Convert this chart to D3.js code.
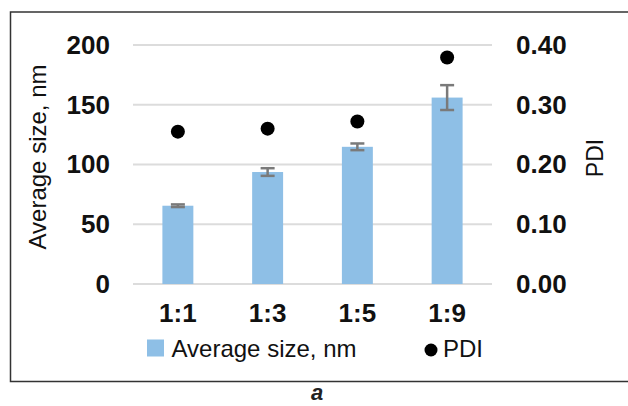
<!DOCTYPE html>
<html>
<head>
<meta charset="utf-8">
<script src="https://cdn.jsdelivr.net/npm/d3@7"></script>
<style>
  html, body { margin: 0; padding: 0; background: #fff; }
  svg { display: block; font-family: "Liberation Sans", Arial, sans-serif; }
</style>
</head>
<body>
<div id="chart"></div>
<script>
// data
const ratios = ["1:1", "1:3", "1:5", "1:9"];
const avgSize = [65.5, 93.7, 114.8, 156];
const sizeErr = [1.1, 3.2, 2.8, 10.4];
const pdi = [0.255, 0.26, 0.272, 0.379];
const sizeTicks = [0, 50, 100, 150, 200];
const pdiTicks = [0, 0.1, 0.2, 0.3, 0.4];

const width = 628;
const height = 406;
const plot = { left: 133, right: 492, top: 45, bottom: 284 };

const barColor = "#8ebfe6";
const errColor = "#7a7a7a";
const gridColor = "#dcdcdc";

const svg = d3.select("#chart")
    .append("svg")
    .attr("width", width)
    .attr("height", height);

// frame (open on the right, like the cropped figure)
svg.append("path")
    .attr("d", `M${width},12H10.5V381.5H${width}`)
    .attr("fill", "none")
    .attr("stroke", "#333")
    .attr("stroke-width", 1.5);

const x = d3.scaleBand()
    .domain(ratios)
    .range([plot.left, plot.right])
    .paddingInner(0.655)
    .paddingOuter(0.3275);

const y = d3.scaleLinear().domain([0, 200]).range([plot.bottom, plot.top]);
const y2 = d3.scaleLinear().domain([0, 0.4]).range([plot.bottom, plot.top]);

// gridlines
svg.append("g")
    .selectAll("line")
    .data(sizeTicks)
    .join("line")
    .attr("x1", plot.left)
    .attr("x2", plot.right)
    .attr("y1", d => y(d))
    .attr("y2", d => y(d))
    .attr("stroke", gridColor)
    .attr("stroke-width", 2);

// left axis
const leftAxis = svg.append("g")
    .attr("transform", `translate(${plot.left},0)`)
    .call(d3.axisLeft(y).tickValues(sizeTicks).tickSize(0).tickPadding(23));

// right axis
const rightAxis = svg.append("g")
    .attr("transform", `translate(${plot.right},0)`)
    .call(d3.axisRight(y2).tickValues(pdiTicks).tickSize(0).tickPadding(24)
        .tickFormat(d3.format(".2f")));

// bottom axis
const bottomAxis = svg.append("g")
    .attr("transform", `translate(0,${plot.bottom})`)
    .call(d3.axisBottom(x).tickSize(0).tickPadding(20));

[leftAxis, rightAxis, bottomAxis].forEach(a => {
    a.select(".domain").remove();
    a.selectAll("text")
        .attr("fill", "#111")
        .style("font-size", "26px")
        .style("font-weight", "bold")
        .style("font-family", "'Liberation Sans', Arial, sans-serif");
});

// bars
svg.append("g")
    .selectAll("rect")
    .data(avgSize)
    .join("rect")
    .attr("x", (d, i) => x(ratios[i]))
    .attr("y", d => y(d))
    .attr("width", x.bandwidth())
    .attr("height", d => y(0) - y(d))
    .attr("fill", barColor);

// error bars
const err = svg.append("g")
    .attr("stroke", errColor)
    .attr("stroke-width", 2.5)
    .selectAll("g")
    .data(avgSize)
    .join("g");

const cx = i => x(ratios[i]) + x.bandwidth() / 2;

err.append("line")
    .attr("x1", (d, i) => cx(i))
    .attr("x2", (d, i) => cx(i))
    .attr("y1", (d, i) => y(d + sizeErr[i]))
    .attr("y2", (d, i) => y(d - sizeErr[i]));

err.append("line")
    .attr("x1", (d, i) => cx(i) - 7)
    .attr("x2", (d, i) => cx(i) + 7)
    .attr("y1", (d, i) => y(d + sizeErr[i]))
    .attr("y2", (d, i) => y(d + sizeErr[i]));

err.append("line")
    .attr("x1", (d, i) => cx(i) - 7)
    .attr("x2", (d, i) => cx(i) + 7)
    .attr("y1", (d, i) => y(d - sizeErr[i]))
    .attr("y2", (d, i) => y(d - sizeErr[i]));

// PDI points
svg.append("g")
    .selectAll("circle")
    .data(pdi)
    .join("circle")
    .attr("cx", (d, i) => cx(i))
    .attr("cy", d => y2(d))
    .attr("r", 7)
    .attr("fill", "#000");

// axis titles
svg.append("text")
    .attr("transform", `translate(46,157) rotate(-90)`)
    .attr("text-anchor", "middle")
    .style("font-size", "24px")
    .attr("fill", "#111")
    .text("Average size, nm");

svg.append("text")
    .attr("transform", `translate(603,158) rotate(-90)`)
    .attr("text-anchor", "middle")
    .style("font-size", "23px")
    .attr("fill", "#111")
    .text("PDI");

// legend
const legend = svg.append("g");
legend.append("rect")
    .attr("x", 147).attr("y", 339.5)
    .attr("width", 17).attr("height", 17)
    .attr("fill", barColor);
legend.append("text")
    .attr("x", 171.5).attr("y", 357)
    .style("font-size", "24px")
    .attr("fill", "#111")
    .text("Average size, nm");
legend.append("circle")
    .attr("cx", 431).attr("cy", 350)
    .attr("r", 6.5)
    .attr("fill", "#000");
legend.append("text")
    .attr("x", 443).attr("y", 357)
    .style("font-size", "24px")
    .attr("fill", "#111")
    .text("PDI");

// panel label
svg.append("text")
    .attr("x", 317).attr("y", 400)
    .attr("text-anchor", "middle")
    .style("font-size", "22px")
    .style("font-weight", "bold")
    .style("font-style", "italic")
    .attr("fill", "#222")
    .text("a");
</script>
</body>
</html>
